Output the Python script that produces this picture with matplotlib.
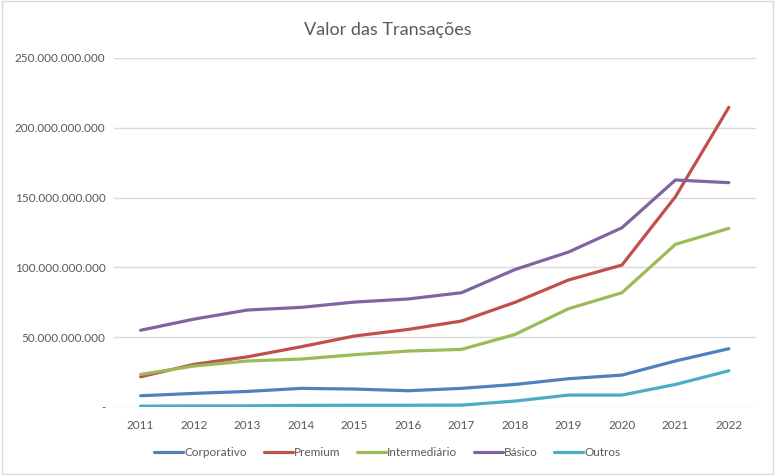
import matplotlib
matplotlib.use("Agg")
import matplotlib.pyplot as plt
from matplotlib.ticker import FuncFormatter
from matplotlib.patches import Rectangle

years = ["2011", "2012", "2013", "2014", "2015", "2016", "2017", "2018", "2019", "2020", "2021", "2022"]
corporativo = [8.1, 9.8, 11.2, 13.4, 12.9, 11.7, 13.4, 16.2, 20.3, 22.9, 33.0, 41.8]
premium = [21.7, 30.6, 36.0, 43.2, 50.9, 55.6, 61.6, 75.0, 91.0, 101.7, 150.6, 214.7]
intermediario = [23.4, 29.4, 33.0, 34.4, 37.5, 40.1, 41.3, 52.0, 70.4, 81.9, 116.5, 128.0]
basico = [55.0, 63.0, 69.5, 71.4, 75.2, 77.4, 81.9, 98.5, 111.0, 128.4, 162.6, 160.7]
outros = [0.7, 0.8, 0.9, 1.2, 1.3, 1.3, 1.4, 4.3, 8.6, 8.6, 16.2, 26.0]

series = [
    ("Corporativo", corporativo, "#4F81BD"),
    ("Premium", premium, "#C0504D"),
    ("Intermediário", intermediario, "#9BBB59"),
    ("Básico", basico, "#8064A2"),
    ("Outros", outros, "#4BACC6"),
]

plt.rcParams['font.family'] = ['Lato', 'DejaVu Sans']
txt = "#595959"

fig = plt.figure(figsize=(7.75, 4.75), dpi=100)
ax = fig.add_axes([0.147, 0.143, 0.828, 0.735])

x = list(range(len(years)))
for name, vals, col in series:
    ax.plot(x, [v * 1e9 for v in vals], color=col, lw=2.3, label=name, solid_capstyle='round')

ax.set_xlim(-0.5, len(years) - 0.5)
ax.set_ylim(0, 250e9)
ax.set_yticks([i * 50e9 for i in range(6)])
ax.yaxis.set_major_formatter(FuncFormatter(lambda v, p: "-" if v == 0 else f"{int(round(v)):,}".replace(",", ".")))
ax.set_xticks(x)
ax.set_xticklabels(years)
ax.grid(axis='y', color="#D9D9D9", lw=1)
ax.set_axisbelow(True)
for s in ax.spines.values():
    s.set_visible(False)
ax.tick_params(axis='both', length=0, colors=txt, labelsize=8.5)
ax.tick_params(axis='y', pad=6)
ax.tick_params(axis='x', pad=9)

fig.text(0.5, 0.937, "Valor das Transações", ha='center', va='center', fontsize=13, color=txt)

leg = fig.legend(loc='center', bbox_to_anchor=(0.5, 0.048), ncol=5, frameon=False,
                 fontsize=8.5, handlelength=2.45, columnspacing=1.4, handletextpad=0.1,
                 labelcolor=txt)

fig.patches.append(Rectangle((0.002, 0.003), 0.996, 0.994, transform=fig.transFigure,
                             fill=False, edgecolor="#D9D9D9", lw=1))

fig.savefig("out.png", dpi=100, facecolor="white")
